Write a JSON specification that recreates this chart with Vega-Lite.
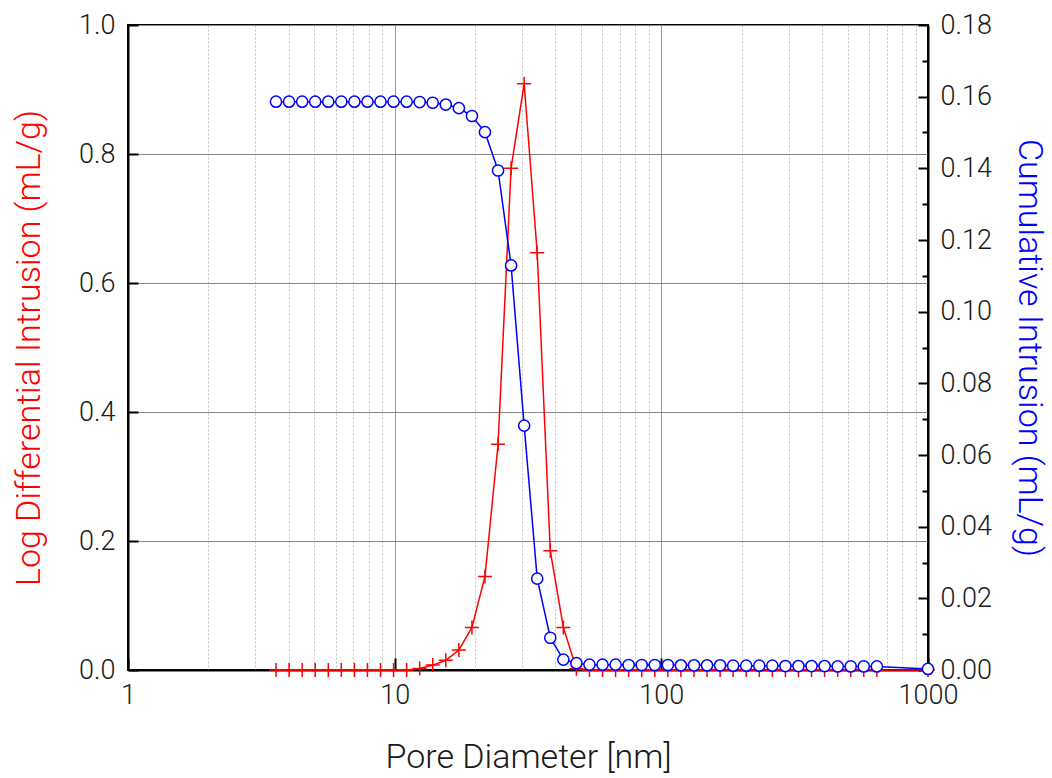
{
  "$schema": "https://vega.github.io/schema/vega-lite/v6.json",
  "width": 800,
  "height": 645,
  "autosize": {"type": "none"},
  "padding": {"left": 128, "top": 25, "right": 124, "bottom": 108},
  "background": "white",
  "config": {
    "view": {"stroke": "black", "strokeWidth": 2},
    "font": "Roboto",
    "axis": {"labelFont": "Roboto", "titleFont": "Roboto", "labelColor": "#1a1a1a", "titleFontWeight": 300, "labelFontWeight": 300, "domainColor": "black", "tickColor": "black", "labelFlush": false}
  },
  "data": {"values": [
    {"d": 3.589, "ldi": 0, "cum": 0.1586},
    {"d": 4.018, "ldi": 0, "cum": 0.1586},
    {"d": 4.498, "ldi": 0, "cum": 0.1586},
    {"d": 5.035, "ldi": 0, "cum": 0.1586},
    {"d": 5.637, "ldi": 0, "cum": 0.1586},
    {"d": 6.308, "ldi": 0, "cum": 0.1586},
    {"d": 7.062, "ldi": 0, "cum": 0.1586},
    {"d": 7.906, "ldi": 0, "cum": 0.1586},
    {"d": 8.849, "ldi": 0, "cum": 0.1586},
    {"d": 9.904, "ldi": 0, "cum": 0.1586},
    {"d": 11.09, "ldi": 0, "cum": 0.1586},
    {"d": 12.41, "ldi": 0.0022, "cum": 0.1585},
    {"d": 13.89, "ldi": 0.0076, "cum": 0.1583},
    {"d": 15.55, "ldi": 0.015, "cum": 0.1578},
    {"d": 17.41, "ldi": 0.031, "cum": 0.1568},
    {"d": 19.49, "ldi": 0.066, "cum": 0.1546},
    {"d": 21.81, "ldi": 0.145, "cum": 0.1501},
    {"d": 24.42, "ldi": 0.35, "cum": 0.1394},
    {"d": 27.33, "ldi": 0.778, "cum": 0.1129},
    {"d": 30.59, "ldi": 0.909, "cum": 0.0682},
    {"d": 34.24, "ldi": 0.647, "cum": 0.0255},
    {"d": 38.33, "ldi": 0.185, "cum": 0.009},
    {"d": 42.91, "ldi": 0.066, "cum": 0.0029},
    {"d": 48.03, "ldi": 0.002, "cum": 0.0019},
    {"d": 53.76, "ldi": 0, "cum": 0.0015},
    {"d": 60.18, "ldi": 0, "cum": 0.0015},
    {"d": 67.37, "ldi": 0, "cum": 0.0015},
    {"d": 75.41, "ldi": 0, "cum": 0.0014},
    {"d": 84.41, "ldi": 0, "cum": 0.0014},
    {"d": 94.5, "ldi": 0, "cum": 0.0014},
    {"d": 105.8, "ldi": 0, "cum": 0.0014},
    {"d": 118.4, "ldi": 0, "cum": 0.0013},
    {"d": 132.6, "ldi": 0, "cum": 0.0013},
    {"d": 148.4, "ldi": 0, "cum": 0.0013},
    {"d": 166.1, "ldi": 0, "cum": 0.0013},
    {"d": 185.9, "ldi": 0, "cum": 0.0012},
    {"d": 208.1, "ldi": 0, "cum": 0.0012},
    {"d": 233.0, "ldi": 0, "cum": 0.0012},
    {"d": 260.8, "ldi": 0, "cum": 0.0012},
    {"d": 291.9, "ldi": 0, "cum": 0.0011},
    {"d": 326.8, "ldi": 0, "cum": 0.0011},
    {"d": 365.8, "ldi": 0, "cum": 0.0011},
    {"d": 409.5, "ldi": 0, "cum": 0.0011},
    {"d": 458.4, "ldi": 0, "cum": 0.001},
    {"d": 513.1, "ldi": 0, "cum": 0.001},
    {"d": 574.3, "ldi": 0, "cum": 0.001},
    {"d": 642.9, "ldi": 0, "cum": 0.001},
    {"d": 1000, "ldi": 0, "cum": 0.0003}
  ]},
  "layer": [
    {
      "layer": [
        {
          "mark": {"type": "line", "color": "#ff0000", "strokeWidth": 1.5},
          "encoding": {
            "x": {"field": "d", "type": "quantitative", "scale": {"type": "log", "domain": [1, 1000], "nice": false},
              "axis": {"orient": "bottom", "values": [1, 10, 100, 1000], "format": "d", "grid": true, "gridColor": "#999999", "gridWidth": 1,
                "tickSize": -12, "tickWidth": 2, "domainWidth": 2, "labelPadding": 24, "labelFontSize": 27,
                "title": "Pore Diameter [nm]", "titleFontSize": 34, "titleColor": "#1a1a1a", "titlePadding": 32}},
            "y": {"field": "ldi", "type": "quantitative", "scale": {"domain": [0, 1]},
              "axis": {"orient": "left", "values": [0, 0.2, 0.4, 0.6, 0.8, 1.0], "format": ".1f", "grid": true, "gridColor": "#888888", "gridWidth": 1,
                "tickSize": -10, "tickWidth": 2, "domainWidth": 2, "labelPadding": 23, "labelFontSize": 27,
                "title": "Log Differential Intrusion  (mL/g)", "titleFontSize": 34, "titleColor": "#ff0000", "titlePadding": 32}}
          }
        },
        {
          "mark": {"type": "point", "shape": "M-1,0L1,0M0,-1L0,1", "filled": false, "stroke": "#ff0000", "strokeWidth": 1.5, "size": 196, "opacity": 1},
          "encoding": {
            "x": {"field": "d", "type": "quantitative"},
            "y": {"field": "ldi", "type": "quantitative"}
          }
        }
      ]
    },
    {
      "layer": [
        {
          "mark": {"type": "line", "color": "#0000ff", "strokeWidth": 1.5},
          "encoding": {
            "x": {"field": "d", "type": "quantitative",
              "axis": {"orient": "bottom", "values": [2, 3, 4, 5, 6, 7, 8, 9, 20, 30, 40, 50, 60, 70, 80, 90, 200, 300, 400, 500, 600, 700, 800, 900],
                "grid": true, "gridColor": "#c4c4c4", "gridDash": [2, 2], "gridWidth": 1, "labels": false, "ticks": false, "domain": false, "title": null}},
            "y": {"field": "cum", "type": "quantitative", "scale": {"domain": [0, 0.18]},
              "axis": {"orient": "right", "values": [0, 0.02, 0.04, 0.06, 0.08, 0.1, 0.12, 0.14, 0.16, 0.18], "format": ".2f", "grid": false,
                "tickSize": -10, "tickWidth": 2, "domainWidth": 2, "labelPadding": 22, "labelFontSize": 27,
                "title": "Cumulative Intrusion (mL/g)", "titleFontSize": 34, "titleColor": "#0000ff", "titlePadding": 20}}
          }
        },
        {
          "mark": {"type": "point", "shape": "circle", "filled": true, "fill": "white", "stroke": "#0000ff", "strokeWidth": 1.5, "size": 125, "opacity": 1},
          "encoding": {
            "x": {"field": "d", "type": "quantitative"},
            "y": {"field": "cum", "type": "quantitative"}
          }
        }
      ]
    },
    {
      "mark": {"type": "point", "opacity": 0},
      "encoding": {
        "x": {"field": "d", "type": "quantitative", "axis": null},
        "y": {"field": "cum", "type": "quantitative", "scale": {"domain": [0, 0.18]},
          "axis": {"orient": "right", "values": [0.01, 0.03, 0.05, 0.07, 0.09, 0.11, 0.13, 0.15, 0.17], "grid": false, "labels": false, "domain": false,
            "tickSize": -6, "tickWidth": 2, "title": null}}
      }
    }
  ],
  "resolve": {"scale": {"y": "independent"}, "axis": {"x": "independent", "y": "independent"}}
}
